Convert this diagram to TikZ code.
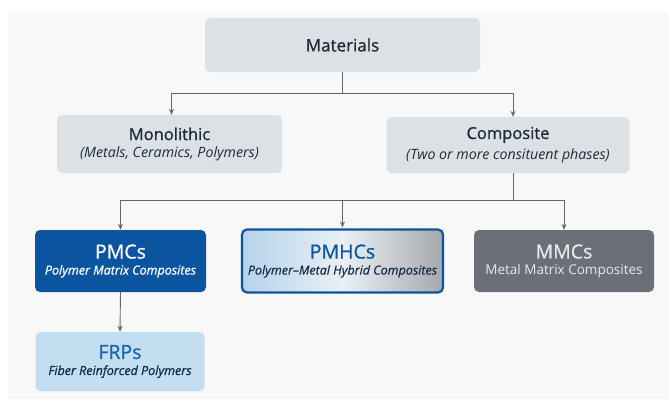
\documentclass[tikz,border=0pt]{standalone}
\usepackage{fontspec}
\setmainfont{Open Sans}
\usetikzlibrary{arrows.meta,calc}
\definecolor{panel}{HTML}{F8F8F8}
\definecolor{lightbox}{HTML}{DCE1E6}
\definecolor{darktext}{HTML}{1F2A36}
\definecolor{pmcblue}{HTML}{0B55A0}
\definecolor{frpfill}{HTML}{C3DEF1}
\definecolor{frptext}{HTML}{1565B0}
\definecolor{navy}{HTML}{152B4A}
\definecolor{mmcgray}{HTML}{6B7078}
\definecolor{mmctext}{HTML}{E6E8EA}
\definecolor{linegray}{HTML}{666666}
\definecolor{gleft}{HTML}{B5D2EA}
\definecolor{gmid}{HTML}{EAF0F4}
\definecolor{gright}{HTML}{A6A9AC}
\tikzset{
  boxbase/.style={rounded corners=5pt, align=center, inner sep=0pt, anchor=center},
  greybox/.style={boxbase, fill=lightbox, text=darktext},
  conn/.style={draw=linegray, line width=0.9pt},
  arr/.style={conn, -{Stealth[length=6pt,width=5pt]}},
}
\newcommand{\ttlA}[1]{{\fontsize{16.5}{20}\selectfont\addfontfeature{FakeBold=0.9}#1}}
\newcommand{\ttlB}[1]{{\fontsize{19.5}{24}\selectfont\addfontfeature{FakeBold=0.8}#1}}
\newcommand{\subit}[1]{{\fontsize{14.2}{17}\selectfont\itshape #1}}
\newcommand{\subsb}[1]{{\fontsize{12.5}{15}\selectfont\itshape\addfontfeature{FakeBold=0.9}#1}}
\begin{document}
\begin{tikzpicture}[x=1pt,y=-1pt]
\useasboundingbox (0,0) rectangle (669,399);
\fill[white] (0,0) rectangle (669,399);
\fill[panel] (8,12) rectangle (669,399);

\node[greybox, minimum width=275pt, minimum height=54pt] (mat) at (342.5,45)
  {\fontsize{17}{20}\selectfont\addfontfeature{FakeBold=0.9}Materials};
\node[greybox, minimum width=225pt, minimum height=58pt] (mono) at (169.5,144)
  {\ttlA{Monolithic}\\[5pt]\subit{(Metals, Ceramics, Polymers)}};
\node[greybox, minimum width=243pt, minimum height=56pt] (comp) at (508,145)
  {\ttlA{Composite}\\[5pt]\subit{(Two or more consituent phases)}};

\node[boxbase, fill=pmcblue, text=white, minimum width=171pt, minimum height=62pt] (pmc) at (120.5,261)
  {\ttlB{PMCs}\\[4pt]\subsb{Polymer Matrix Composites}};
\node[boxbase, left color=gleft, right color=gright, middle color=gmid, draw=pmcblue, line width=2.2pt,
      minimum width=201pt, minimum height=63pt] (pmhc) at (342.5,261)
  {\ttlB{\color{pmcblue}PMHCs}\\[4pt]{\fontsize{12.5}{15}\selectfont\itshape\addfontfeature{FakeBold=0.4}\color{navy}Polymer--Metal Hybrid Composites}};
\node[boxbase, fill=mmcgray, text=mmctext, minimum width=180pt, minimum height=62pt] (mmc) at (564,261)
  {\ttlB{MMCs}\\[4pt]{\fontsize{13.5}{16}\selectfont Metal Matrix Composites}};
\node[boxbase, fill=frpfill, minimum width=169pt, minimum height=59pt] (frp) at (120,361.5)
  {\ttlB{\color{frptext}FRPs}\\[4pt]\subsb{\color{navy}Fiber Reinforced Polymers}};

\coordinate (j1) at ($(mat.south)+(0,21)$);
\draw[conn] (mat.south) -- (j1);
\draw[arr] (j1) -| ($(mono.north)+(2,0)$);
\draw[arr] (j1) -| ($(comp.north)+(5,0)$);

\coordinate (c0) at ($(comp.south)+(5,0)$);
\coordinate (j2) at ($(c0)+(0,27)$);
\draw[conn] (c0) -- (j2);
\draw[arr] (j2) -| (pmc.north);
\draw[arr] (j2) -| (mmc.north);
\draw[arr] (pmhc.north |- j2) -- ($(pmhc.north)+(0,-1)$);
\draw[arr] (pmc.south) -- (frp.north);
\end{tikzpicture}
\end{document}
